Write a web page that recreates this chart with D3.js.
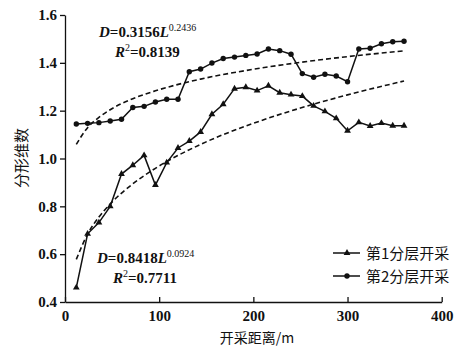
<!DOCTYPE html>
<html>
<head>
<meta charset="utf-8">
<script src="https://cdn.jsdelivr.net/npm/d3@7"></script>
<style>
  body { margin: 0; background: #fff; }
  text { fill: #111; }
</style>
</head>
<body>
<div id="chart"></div>
<script>
// 開採距離 (m)
const distances = [12, 24, 36, 48, 60, 72, 84, 96, 108, 120, 132, 144, 156, 168, 180,
  192, 204, 216, 228, 240, 252, 264, 276, 288, 300, 312, 324, 336, 348, 360];
// 第1分层开采
const layer1 = [0.460, 0.685, 0.732, 0.800, 0.935, 0.972, 1.013, 0.889, 0.983, 1.044,
  1.073, 1.111, 1.185, 1.227, 1.292, 1.298, 1.284, 1.304, 1.275, 1.267,
  1.261, 1.220, 1.197, 1.168, 1.116, 1.151, 1.136, 1.148, 1.137, 1.137];
// 第2分层开采
const layer2 = [1.144, 1.147, 1.150, 1.157, 1.164, 1.213, 1.218, 1.236, 1.248, 1.248,
  1.363, 1.374, 1.399, 1.418, 1.424, 1.431, 1.437, 1.458, 1.451, 1.436,
  1.355, 1.340, 1.352, 1.345, 1.321, 1.458, 1.461, 1.480, 1.488, 1.490];
// 拟合曲线 (dashed)
const fitX = [12, 24, 36, 48, 72, 96, 144, 200, 250, 300, 360];
const fitLower = [0.578, 0.684, 0.755, 0.810, 0.894, 0.959, 1.059, 1.147, 1.211, 1.266, 1.324];
const fitUpper = [1.059, 1.129, 1.172, 1.204, 1.250, 1.283, 1.332, 1.373, 1.402, 1.426, 1.450];

const xTicks = [0, 100, 200, 300, 400];
const yTicks = [0.4, 0.6, 0.8, 1.0, 1.2, 1.4, 1.6];
const seriesNames = ["第1分层开采", "第2分层开采"];

const W = 464, H = 350;
const margin = {top: 15, right: 22.3, bottom: 48, left: 65};
const serif = "'Liberation Serif', 'DejaVu Serif', serif";
const cjk = "'Noto Sans CJK SC', sans-serif";

const svg = d3.select("#chart").append("svg")
  .attr("width", W).attr("height", H);

const x = d3.scaleLinear().domain([0, 400]).range([margin.left, W - margin.right]);
const y = d3.scaleLinear().domain([0.4, 1.6]).range([H - margin.bottom, margin.top]);

// axes
const xAxis = svg.append("g")
  .attr("transform", `translate(0,${H - margin.bottom})`)
  .call(d3.axisBottom(x).tickValues(xTicks).tickSize(-5).tickSizeOuter(0).tickPadding(8));
const yAxis = svg.append("g")
  .attr("transform", `translate(${margin.left},0)`)
  .call(d3.axisLeft(y).tickValues(yTicks).tickFormat(d3.format(".1f")).tickSize(5).tickSizeOuter(0).tickPadding(3));

[xAxis, yAxis].forEach(a => {
  a.selectAll("path, line").attr("stroke", "#111").attr("stroke-width", 1.3);
  a.selectAll("text")
    .attr("font-family", serif).attr("font-weight", "bold")
    .attr("font-size", 15).attr("fill", "#111");
});

// axis titles
svg.append("text")
  .attr("x", 257).attr("y", 343)
  .attr("text-anchor", "middle")
  .attr("font-family", cjk).attr("font-size", 14)
  .text("开采距离/m");
svg.append("text")
  .attr("transform", "translate(27,158) rotate(-90)")
  .attr("text-anchor", "middle")
  .attr("font-family", cjk).attr("font-size", 15)
  .text("分形维数");

// fitted curves
const fitLine = d3.line().x(d => x(d[0])).y(d => y(d[1])).curve(d3.curveMonotoneX);
[fitLower, fitUpper].forEach(vals => {
  svg.append("path")
    .datum(fitX.map((d, i) => [d, vals[i]]))
    .attr("d", fitLine)
    .attr("fill", "none")
    .attr("stroke", "#111")
    .attr("stroke-width", 1.6)
    .attr("stroke-dasharray", "5,3");
});

// data lines
const line = d3.line().x(d => x(d[0])).y(d => y(d[1]));
const tri = d3.symbol().type(d3.symbolTriangle).size(20);

[layer1, layer2].forEach((vals, k) => {
  const pts = distances.map((d, i) => [d, vals[i]]);
  svg.append("path")
    .datum(pts)
    .attr("d", line)
    .attr("fill", "none")
    .attr("stroke", "#111")
    .attr("stroke-width", 1.5);
  if (k === 0) {
    svg.selectAll("path.tri")
      .data(pts)
      .join("path")
      .attr("class", "tri")
      .attr("d", tri)
      .attr("transform", d => `translate(${x(d[0])},${y(d[1])})`)
      .attr("fill", "#111");
  } else {
    svg.selectAll("circle.dot")
      .data(pts)
      .join("circle")
      .attr("class", "dot")
      .attr("cx", d => x(d[0]))
      .attr("cy", d => y(d[1]))
      .attr("r", 2.7)
      .attr("fill", "#111");
  }
});

// equations
function equation(cx, cy, coef, expo, r2) {
  const t = svg.append("text")
    .attr("x", cx).attr("y", cy)
    .attr("font-family", serif).attr("font-weight", "bold").attr("font-size", 15);
  t.append("tspan").attr("font-style", "italic").text("D");
  t.append("tspan").text("=" + coef);
  t.append("tspan").attr("font-style", "italic").text("L");
  t.append("tspan").attr("font-size", 10).attr("font-weight", "normal").attr("dy", -6).text(expo);
  const t2 = svg.append("text")
    .attr("x", cx + 16).attr("y", cy + 20)
    .attr("font-family", serif).attr("font-weight", "bold").attr("font-size", 15);
  t2.append("tspan").attr("font-style", "italic").text("R");
  t2.append("tspan").attr("font-size", 10).attr("font-weight", "normal").attr("dy", -6).text("2");
  t2.append("tspan").attr("dy", 6).text("=" + r2);
}
equation(99, 37, "0.3156", "0.2436", "0.8139");
equation(97, 263, "0.8418", "0.0924", "0.7711");

// legend
const legend = svg.append("g");
seriesNames.forEach((name, k) => {
  const ly = 253 + k * 23;
  legend.append("line")
    .attr("x1", 333).attr("x2", 360).attr("y1", ly).attr("y2", ly)
    .attr("stroke", "#111").attr("stroke-width", 1.5);
  if (k === 0) {
    legend.append("path").attr("d", tri)
      .attr("transform", `translate(347,${ly})`).attr("fill", "#111");
  } else {
    legend.append("circle").attr("cx", 347).attr("cy", ly).attr("r", 2.7).attr("fill", "#111");
  }
  legend.append("text")
    .attr("x", 366).attr("y", ly + 5.5)
    .attr("font-family", cjk).attr("font-size", 15)
    .text(name);
});
</script>
</body>
</html>
